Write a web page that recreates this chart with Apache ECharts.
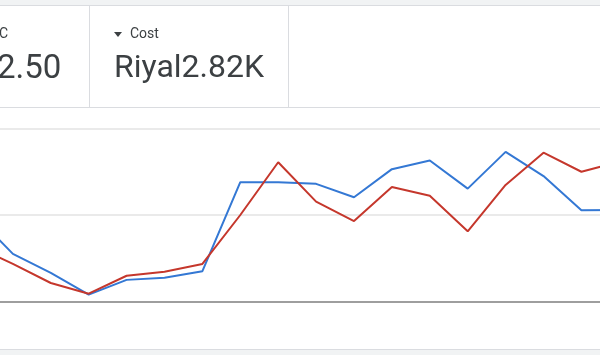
<!DOCTYPE html>
<html>
<head>
<meta charset="utf-8">
<script src="https://cdn.jsdelivr.net/npm/echarts@6/dist/echarts.min.js"></script>
<style>
  html, body { margin: 0; padding: 0; background: #fff; overflow: hidden; width: 600px; height: 355px; }
  /* the chart is a bit wider than the window so the first and last day fall outside it */
  #chart { position: absolute; left: -25px; top: 0; width: 670px; height: 355px; }
</style>
</head>
<body>
<div id="chart"></div>
<script>
// days shown (first and last sit just outside the visible area)
const days = ['D1', 'D2', 'D3', 'D4', 'D5', 'D6', 'D7', 'D8', 'D9', 'D10', 'D11', 'D12', 'D13', 'D14', 'D15', 'D16', 'D17', 'D18'];
// blue series
const clicks = [100, 55, 33, 8, 25, 27.5, 35, 138, 138, 136, 120.5, 153, 163, 130.5, 173, 145, 105.5, 105.8];
// red series
const cost = [64, 43.4, 21.4, 9, 29.8, 34.5, 43.4, 100, 161, 115.4, 93, 132.4, 122.3, 81.2, 134.7, 172, 150, 161.5];

const cardLabels = ['C', 'Cost'];
const cardValues = ['2.50', 'Riyal2.82K'];

const TEXT = '#3c4043';
const BORDER = '#dadce0';
const BAND = '#f1f3f4';
const OFFSET = 25; // container is shifted left by this much

const chart = echarts.init(document.getElementById('chart'));

chart.setOption({
  backgroundColor: '#fff',
  animation: false,
  grid: {
    left: 0,
    right: 25.7,
    top: 128.5,
    bottom: 53.5,
  },
  xAxis: {
    type: 'category',
    data: days,
    boundaryGap: false,
    axisLine: { show: true, lineStyle: { color: '#9e9e9e', width: 2 } },
    axisTick: { show: false },
    axisLabel: { show: false },
  },
  yAxis: {
    type: 'value',
    min: 0,
    max: 200,
    interval: 100,
    axisLine: { show: false },
    axisTick: { show: false },
    axisLabel: { show: false },
    splitLine: { lineStyle: { color: '#e3e3e3', width: 1.5 } },
  },
  series: [
    {
      type: 'line',
      data: clicks,
      symbol: 'none',
      z: 3,
      lineStyle: { color: '#3478d4', width: 2 },
    },
    {
      type: 'line',
      data: cost,
      symbol: 'none',
      z: 4,
      lineStyle: { color: '#c5372c', width: 2 },
    },
  ],
  graphic: [
    {
      type: 'group',
      x: OFFSET,
      y: 0,
      children: [
        // top grey band
        { type: 'rect', shape: { x: 0, y: 0, width: 600, height: 5 }, style: { fill: BAND }, silent: true },
        { type: 'line', shape: { x1: 0, y1: 5.5, x2: 600, y2: 5.5 }, style: { stroke: BORDER, lineWidth: 1 } },
        // card dividers
        { type: 'line', shape: { x1: 89.5, y1: 5, x2: 89.5, y2: 107 }, style: { stroke: BORDER, lineWidth: 1 } },
        { type: 'line', shape: { x1: 288.5, y1: 5, x2: 288.5, y2: 107 }, style: { stroke: BORDER, lineWidth: 1 } },
        { type: 'line', shape: { x1: 0, y1: 107.5, x2: 600, y2: 107.5 }, style: { stroke: BORDER, lineWidth: 1 } },
        // card texts
        { type: 'text', x: -1, y: 27, style: { text: cardLabels[0], fill: TEXT, font: '14px Roboto' } },
        { type: 'text', x: -3, y: 53, style: { text: cardValues[0], fill: TEXT, font: '33px Roboto' } },
        { type: 'polygon', shape: { points: [[114, 32], [122, 32], [118, 37]] }, style: { fill: TEXT } },
        { type: 'text', x: 130, y: 27, style: { text: cardLabels[1], fill: TEXT, font: '14px Roboto' } },
        { type: 'text', x: 114, y: 53, style: { text: cardValues[1], fill: TEXT, font: '32px Roboto' } },
        // bottom grey band
        { type: 'line', shape: { x1: 0, y1: 349.5, x2: 600, y2: 349.5 }, style: { stroke: BORDER, lineWidth: 1 } },
        { type: 'rect', shape: { x: 0, y: 350, width: 600, height: 5 }, style: { fill: BAND }, silent: true },
      ],
    },
  ],
});
</script>
</body>
</html>
